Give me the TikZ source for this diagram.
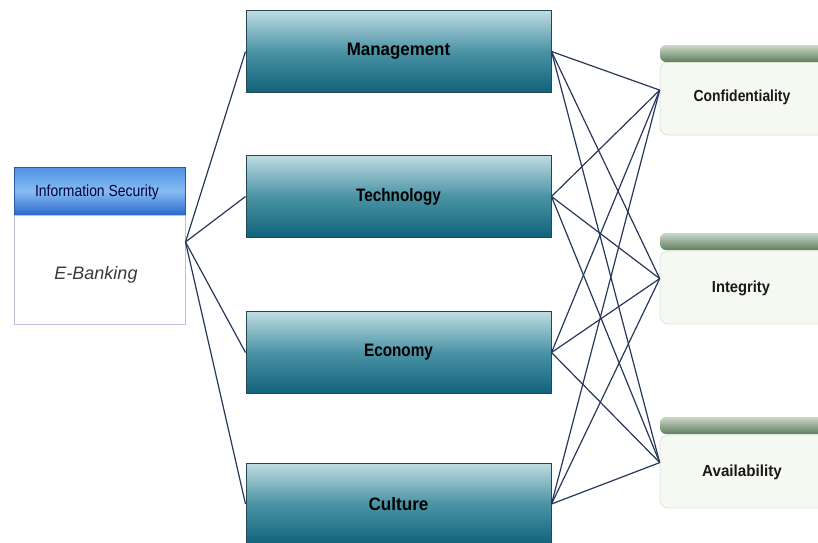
\documentclass[tikz,border=0pt]{standalone}
\usepackage{fontspec}
\setmainfont{Liberation Sans}
\usetikzlibrary{calc}
\definecolor{linec}{HTML}{26385A}
\definecolor{tealtop}{HTML}{BFDCE2}
\definecolor{tealmid}{HTML}{4A93A5}
\definecolor{tealbot}{HTML}{10627A}
\definecolor{tealedge}{HTML}{244850}
\definecolor{bluetop}{HTML}{4D92E4}
\definecolor{bluemid}{HTML}{86BCF2}
\definecolor{bluebot}{HTML}{2A68CC}
\definecolor{blueedge}{HTML}{2A5AA0}
\definecolor{lavedge}{HTML}{BDBDDD}
\definecolor{greentop}{HTML}{CBD8C8}
\definecolor{greenbot}{HTML}{5F7F5F}
\definecolor{greenbody}{HTML}{F5F9F1}
\definecolor{greenedge}{HTML}{DCE5D6}
\definecolor{ebank}{HTML}{3A3A3A}
\tikzset{
  midbox/.style={draw=tealedge, line width=1pt, top color=tealtop, bottom color=tealbot, middle color=tealmid,
    minimum width=305pt, minimum height=82pt, inner sep=0pt,
    font=\fontsize{18}{20}\selectfont\bfseries, text=black},
  infohead/.style={draw=blueedge, line width=0.8pt, top color=bluetop, bottom color=bluebot, middle color=bluemid,
    minimum width=171pt, minimum height=48pt, inner sep=0pt},
  infobody/.style={draw=lavedge, line width=1pt, fill=white,
    minimum width=171pt, minimum height=109pt, inner sep=0pt},
  rhead/.style={rounded corners=6pt, top color=greentop, bottom color=greenbot,
    minimum width=180pt, minimum height=17pt, inner sep=0pt},
  rbody/.style={draw=greenedge, line width=0.8pt, rounded corners=8pt, fill=greenbody,
    minimum width=180pt, minimum height=73pt, inner sep=0pt},
  rtext/.style={font=\fontsize{16}{18}\selectfont\bfseries, text=black!90, inner sep=0pt},
  link/.style={draw=linec, line width=1.2pt},
}
\begin{document}
\begin{tikzpicture}[x=1pt,y=-1pt]
\useasboundingbox (0,0) rectangle (818,542);
\begin{scope}
\clip (0,0) rectangle (818,542);
% left box
\node[infohead] (infoh) at (99.5,191) {};
\node[infobody] (infob) at (99.5,269.5) {};
\node[font=\fontsize{16}{18}\selectfont, text={black!75!blue}, inner sep=0pt] (infot) at (97,192) {\scalebox{0.87}[1]{Information Security}};
\node[font=\fontsize{18}{20}\selectfont\itshape, text=ebank, inner sep=0pt] (ebt) at (96,275) {E-Banking};
% middle boxes
\node[midbox] (mgmt) at (398.5,51.5) {\scalebox{0.94}[1]{Management}};
\node[midbox] (tech) at (398.5,196.5) {\scalebox{0.85}[1]{Technology}};
\node[midbox] (econ) at (398.5,352.5) {\scalebox{0.85}[1]{Economy}};
\node[midbox] (cult) at (398.5,504) {\scalebox{0.95}[1]{Culture}};
% right boxes
\node[rbody] (conf) at (750,98.5) {};
\node[rhead] (confh) at (750,53.5) {};
\node[rbody] (integ) at (750,287.5) {};
\node[rhead] (integh) at (750,241.5) {};
\node[rbody] (avail) at (750,471.5) {};
\node[rhead] (availh) at (750,425.5) {};
\node[rtext] (conft) at (742,97) {\scalebox{0.87}[1]{Confidentiality}};
\node[rtext] (integt) at (741,288) {\scalebox{0.92}[1]{Integrity}};
\node[rtext] (availt) at (742,472) {\scalebox{0.95}[1]{Availability}};
% ports
\coordinate (fan) at ($(infob.north east)!0.25!(infob.south east)$);
\coordinate (pconf) at ($(confh.north west)!0.5!(conf.south west)$);
\coordinate (pinteg) at ($(integh.north west)!0.5!(integ.south west)$);
\coordinate (pavail) at ($(availh.north west)!0.5!(avail.south west)$);
% left links
\foreach \m in {mgmt,tech,econ,cult}
  \draw[link] (fan) -- (\m.west);
% right links
\foreach \m in {mgmt,tech,econ,cult}
  \foreach \r in {pconf,pinteg,pavail}
    \draw[link] (\m.east) -- (\r);
\end{scope}
\end{tikzpicture}
\end{document}
